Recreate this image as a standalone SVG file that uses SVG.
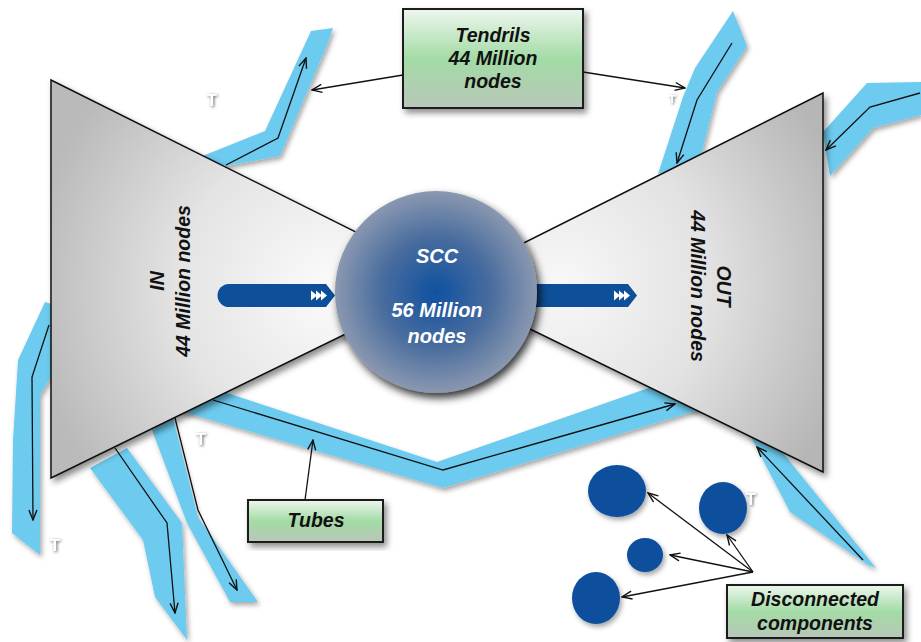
<svg xmlns="http://www.w3.org/2000/svg" width="921" height="642" viewBox="0 0 921 642">
<defs>
<style>
.tend{fill:#6ccbef;filter:url(#sh)}
.tarr{fill:none;stroke:#111;stroke-width:1.3;marker-end:url(#ah)}
.conn{fill:none;stroke:#111;stroke-width:1.3;marker-end:url(#ah)}
.tri{stroke:#111;stroke-width:1.5;filter:url(#sh2)}
.box{fill:url(#gbox);stroke:#1a1a1a;stroke-width:2;filter:url(#sh2)}
.lbl{font-family:"Liberation Sans",Arial,sans-serif;font-weight:bold;font-style:italic;font-size:19.5px;fill:#111;text-anchor:middle}
.scc{font-family:"Liberation Sans",Arial,sans-serif;font-weight:bold;font-style:italic;font-size:20px;fill:#fff;text-anchor:middle}
.t{font-family:"Liberation Sans",Arial,sans-serif;font-weight:bold;font-size:16px;fill:#fff;text-anchor:middle;filter:url(#glow)}
.dc{fill:#0b4f9c;filter:url(#sh)}
.barr{fill:#0d4f98}
.chev{fill:#fff}
</style>
<marker id="ah" viewBox="0 0 12 10" refX="11" refY="5" markerWidth="12" markerHeight="10" markerUnits="userSpaceOnUse" orient="auto"><path d="M1,1 L11,5 L1,9" fill="none" stroke="#111" stroke-width="1.4"/></marker>
<filter id="sh" x="-30%" y="-30%" width="160%" height="160%"><feDropShadow dx="2" dy="3" stdDeviation="2.5" flood-color="#000" flood-opacity="0.35"/></filter>
<filter id="sh2" x="-20%" y="-20%" width="140%" height="140%"><feDropShadow dx="3" dy="4" stdDeviation="3" flood-color="#000" flood-opacity="0.45"/></filter>
<filter id="shc" x="-20%" y="-20%" width="140%" height="140%"><feDropShadow dx="3" dy="5" stdDeviation="4" flood-color="#000" flood-opacity="0.8"/></filter>
<filter id="glow" x="-100%" y="-100%" width="300%" height="300%"><feDropShadow dx="1" dy="1" stdDeviation="1.8" flood-color="#555" flood-opacity="1"/></filter>
<radialGradient id="gin" gradientUnits="userSpaceOnUse" cx="330" cy="290" r="300"><stop offset="0" stop-color="#fbfbfb"/><stop offset="0.5" stop-color="#e4e4e4"/><stop offset="1" stop-color="#bababa"/></radialGradient>
<radialGradient id="gout" gradientUnits="userSpaceOnUse" cx="560" cy="285" r="300"><stop offset="0" stop-color="#f8f8f8"/><stop offset="0.5" stop-color="#e2e2e2"/><stop offset="1" stop-color="#b6b6b6"/></radialGradient>
<radialGradient id="gscc" cx="0.5" cy="0.5" r="0.5"><stop offset="0" stop-color="#0f51a0"/><stop offset="0.55" stop-color="#4a6d9e"/><stop offset="1" stop-color="#8a98b0"/></radialGradient>
<linearGradient id="gbox" x1="0" y1="0" x2="0" y2="1"><stop offset="0" stop-color="#eef7ee"/><stop offset="0.5" stop-color="#a3dba6"/><stop offset="1" stop-color="#b8c7b8"/></linearGradient>
</defs>
<g id="tendrils">
<polygon class="tend" points="200,157 265,131 311,31 333,28 327,45 280,156 226,166"/>
<polygon class="tend" points="733,11 747,46 717,92 700,160 658,174 683,97 695,68"/>
<polygon class="tend" points="867,83 921,82 921,115 873,128 830,176 823,132"/>
<polygon class="tend" points="45,302 55,305 55,370 40,395 40,555 12,533 13,440 18,360"/>
<polygon class="tend" points="90,468 127,448 182,523 187,640 155,597 143,540"/>
<polygon class="tend" points="152,430 173,418 198,517 258,602 230,602 187,523"/>
<polygon class="tend" points="745,425 770,437 876,568 868,565 790,512 777,487"/>
<polygon class="tend" points="215,389 437,462 660,384 705,408 443,488 170,408"/>
</g>
<g id="tendril-arrows">
<path class="tarr" d="M226,165 L278,138 L306,58"/>
<path class="tarr" d="M732,43 L697,100 L677,163"/>
<path class="tarr" d="M920,93 L870,107 L826,150"/>
<path class="tarr" d="M49,325 L32,377 L33,520"/>
<path class="tarr" d="M115,448 L167,523 L175,613"/>
<path class="tarr" d="M175,418 L198,510 L237,590"/>
<path class="tarr" d="M863,560 L757,447"/>
<path class="tarr" d="M213,400 L443,470 L675,404"/>
</g>
<g id="in">
<polygon class="tri" fill="url(#gin)" points="51,80 454,281 51,478"/>
</g>
<g id="out">
<polygon class="tri" fill="url(#gout)" points="823,93 823,472 440,285"/>
</g>
<g id="flow-arrows">
<path class="barr" d="M229,284 H326 L335,295.5 L326,307 H229 A11.5,11.5 0 0 1 229,284 Z"/>
<polygon class="chev" points="311,290.5 317,295.5 311,300.5"/>
<polygon class="chev" points="316,290.5 322,295.5 316,300.5"/>
<polygon class="chev" points="321,290.5 327,295.5 321,300.5"/>
<path class="barr" d="M520,284 H628 L637,295.5 L628,307 H520 Z"/>
<polygon class="chev" points="614,290.5 620,295.5 614,300.5"/>
<polygon class="chev" points="619,290.5 625,295.5 619,300.5"/>
<polygon class="chev" points="624,290.5 630,295.5 624,300.5"/>
</g>
<g id="scc">
<circle cx="436" cy="292" r="101" fill="url(#gscc)" filter="url(#shc)"/>
<text class="scc" x="437" y="263">SCC</text>
<text class="scc" x="437" y="317">56 Million</text>
<text class="scc" x="437" y="343">nodes</text>
</g>
<g id="in-label">
<text class="lbl" transform="translate(164,281) rotate(-90)"><tspan x="0" y="0">IN</tspan><tspan x="0" y="26">44 Million nodes</tspan></text>
</g>
<g id="out-label">
<text class="lbl" transform="translate(717,286) rotate(90)"><tspan x="0" y="0">OUT</tspan><tspan x="0" y="26">44 Million nodes</tspan></text>
</g>
<g id="disconnected">
<ellipse class="dc" cx="617" cy="491" rx="29" ry="26"/>
<ellipse class="dc" cx="723" cy="508" rx="24" ry="26"/>
<ellipse class="dc" cx="645" cy="555" rx="18" ry="17"/>
<ellipse class="dc" cx="596" cy="598" rx="24" ry="26"/>
</g>
<g id="t-marks">
<text class="t" x="212" y="106">T</text>
<text class="t" x="672" y="103" style="font-size:11px">T</text>
<text class="t" x="201" y="445">T</text>
<text class="t" x="55" y="551">T</text>
<text class="t" x="751" y="505">T</text>
</g>
<g id="tendrils-box">
<rect class="box" x="403" y="9" width="180" height="99"/>
<text class="lbl" x="493" y="42">Tendrils</text>
<text class="lbl" x="493" y="65">44 Million</text>
<text class="lbl" x="493" y="88">nodes</text>
</g>
<g id="tubes-box">
<rect class="box" x="248" y="500" width="135" height="42"/>
<text class="lbl" x="316" y="527">Tubes</text>
</g>
<g id="disconnected-box">
<rect class="box" x="727" y="585" width="176" height="53"/>
<text class="lbl" x="815" y="606">Disconnected</text>
<text class="lbl" x="815" y="630">components</text>
</g>
<g id="connectors">
<path class="conn" d="M403,75 L312,90"/>
<path class="conn" d="M583,72 L685,88"/>
<path class="conn" d="M305,500 L313,440"/>
<path class="conn" d="M753,572 L648,493"/>
<path class="conn" d="M753,572 L727,535"/>
<path class="conn" d="M753,572 L670,555"/>
<path class="conn" d="M753,572 L622,597"/>
</g>
</svg>
